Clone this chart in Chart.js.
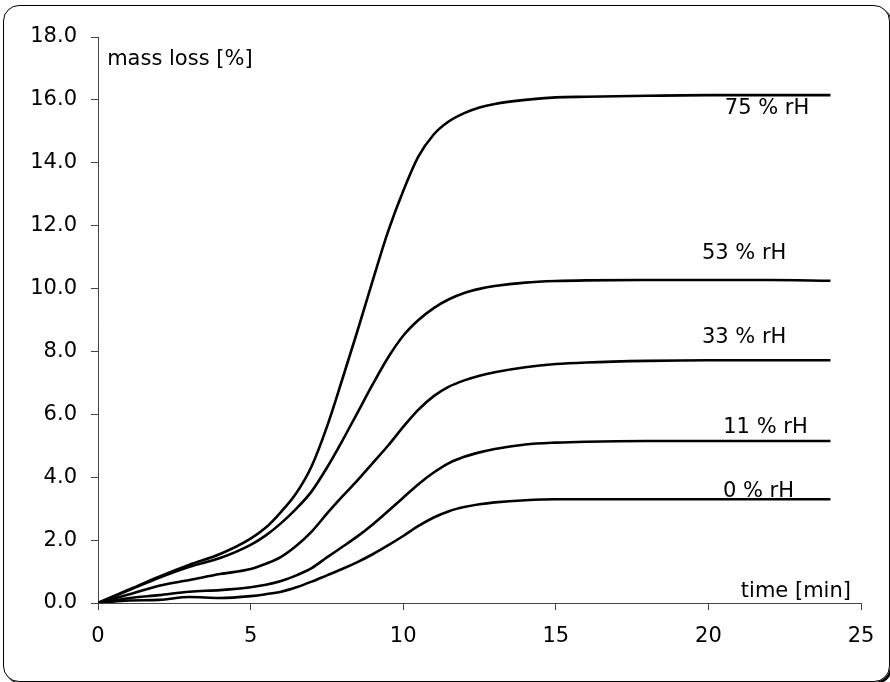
<!DOCTYPE html>
<html lang="en">
<head>
<meta charset="utf-8">
<script src="https://cdn.jsdelivr.net/npm/chart.js@4.4.0/dist/chart.umd.min.js"></script>
<style>
  body { margin: 0; background: #fff; overflow: hidden; }
  #frame {
    position: absolute; left: 3px; top: 5px;
    width: 885px; height: 675px;
    border: 1px solid #000; border-radius: 16px;
    box-shadow: 2px 2px 0 #000;
  }
  #wrap { position: absolute; left: 0; top: 0; width: 890px; height: 682px; }
</style>
</head>
<body>
<div id="frame"></div>
<div id="wrap"><canvas id="massChart" width="890" height="682"></canvas></div>
<script>
  // time points [min]
  const times = [0, 1, 2, 3, 4, 5, 5.5, 6, 6.5, 7, 7.5, 8, 8.5, 9, 9.5, 10, 10.5, 11, 11.5, 12, 12.5, 13, 14, 15, 16, 18, 20, 22, 24];

  // mass loss [%] per humidity
  const rh75 = [0, 0.42, 0.84, 1.22, 1.56, 2.05, 2.4, 2.9, 3.5, 4.35, 5.6, 7.1, 8.65, 10.25, 11.8, 13.1, 14.2, 14.9, 15.32, 15.58, 15.76, 15.87, 16.0, 16.08, 16.1, 16.13, 16.15, 16.15, 16.15];
  const rh53 = [0, 0.4, 0.8, 1.15, 1.43, 1.85, 2.15, 2.54, 3.0, 3.55, 4.3, 5.15, 6.05, 6.95, 7.8, 8.5, 9.0, 9.38, 9.66, 9.86, 9.99, 10.08, 10.19, 10.24, 10.26, 10.27, 10.27, 10.27, 10.25];
  const rh33 = [0, 0.27, 0.55, 0.73, 0.92, 1.08, 1.25, 1.47, 1.82, 2.27, 2.84, 3.38, 3.9, 4.45, 5.0, 5.6, 6.15, 6.58, 6.88, 7.08, 7.23, 7.34, 7.5, 7.6, 7.65, 7.7, 7.72, 7.72, 7.72];
  const rh11 = [0, 0.15, 0.25, 0.36, 0.41, 0.5, 0.58, 0.7, 0.88, 1.11, 1.45, 1.78, 2.12, 2.5, 2.92, 3.35, 3.78, 4.15, 4.45, 4.65, 4.79, 4.9, 5.04, 5.1, 5.13, 5.15, 5.15, 5.15, 5.15];
  const rh0  = [0, 0.08, 0.1, 0.19, 0.16, 0.22, 0.28, 0.36, 0.5, 0.68, 0.88, 1.08, 1.3, 1.55, 1.83, 2.13, 2.45, 2.72, 2.92, 3.05, 3.14, 3.2, 3.27, 3.3, 3.3, 3.3, 3.3, 3.3, 3.3];

  const seriesNames = ["75 % rH", "53 % rH", "33 % rH", "11 % rH", "0 % rH"];
  const seriesValues = [rh75, rh53, rh33, rh11, rh0];

  // label anchor positions in data units [time, mass loss]
  const labelTimes  = [21.92, 21.17, 21.17, 21.87, 21.64];
  const labelValues = [15.74, 11.1, 8.43, 5.57, 3.53];

  const yTitle = "mass loss [%]";
  const xTitle = "time [min]";

  const FONT = "DejaVu Sans, Verdana, sans-serif";

  const datasets = seriesValues.map((vals, i) => ({
    label: seriesNames[i],
    data: times.map((t, j) => ({ x: t, y: vals[j] })),
    borderColor: "#000",
    borderWidth: 2.6,
    pointRadius: 0,
    fill: false,
    cubicInterpolationMode: "monotone"
  }));

  // text labels drawn through the scales
  const textPlugin = {
    id: "textLabels",
    afterDatasetsDraw(chart) {
      const c = chart.ctx;
      const xs = chart.scales.x, ys = chart.scales.y;
      c.save();
      c.font = "21px " + FONT;
      c.fillStyle = "#000";
      c.textBaseline = "middle";
      c.textAlign = "center";
      seriesNames.forEach((name, i) => {
        c.fillText(name, xs.getPixelForValue(labelTimes[i]), ys.getPixelForValue(labelValues[i]));
      });
      c.textAlign = "left";
      c.fillText(yTitle, xs.getPixelForValue(0.3), ys.getPixelForValue(17.27));
      c.textAlign = "right";
      c.fillText(xTitle, xs.getPixelForValue(24.67), ys.getPixelForValue(0.35));
      c.restore();
    }
  };

  new Chart(document.getElementById("massChart").getContext("2d"), {
    type: "line",
    data: { datasets },
    plugins: [textPlugin],
    options: {
      responsive: false,
      animation: false,
      devicePixelRatio: 1,
      layout: { padding: { top: 37, right: 29, bottom: 0, left: 0 } },
      plugins: { legend: { display: false }, tooltip: { enabled: false } },
      scales: {
        x: {
          type: "linear",
          min: 0, max: 25,
          afterFit(scale) { scale.height = 79; },
          ticks: { stepSize: 5, color: "#000", padding: 14, font: { family: FONT, size: 21 } },
          grid: { drawOnChartArea: false, drawTicks: true, tickLength: 7, color: "#444" },
          border: { display: true, color: "#444", width: 1 }
        },
        y: {
          type: "linear",
          min: 0, max: 18,
          afterFit(scale) { scale.width = 98; },
          ticks: {
            stepSize: 2, color: "#000", padding: 14,
            font: { family: FONT, size: 21 },
            callback: v => v.toFixed(1)
          },
          grid: { drawOnChartArea: false, drawTicks: true, tickLength: 7, color: "#444" },
          border: { display: true, color: "#444", width: 1 }
        }
      }
    }
  });
</script>
</body>
</html>
